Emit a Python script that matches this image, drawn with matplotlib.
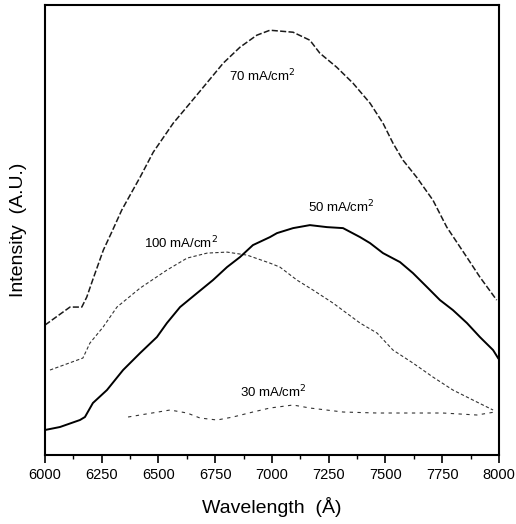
import numpy as np
import matplotlib.pyplot as plt

# Emission spectra (intensity in arbitrary units)
wl_70 = [6000, 6110, 6162, 6184, 6213, 6257, 6294, 6338, 6419, 6477, 6565, 6639,
         6712, 6785, 6859, 6933, 6991, 7093, 7167, 7211, 7285, 7357, 7432, 7489,
         7533, 7577, 7637, 7709, 7770, 7858, 7916, 7990]
int_70 = [130, 148, 148, 158, 177, 205, 223, 245, 278, 303, 332, 352,
          372, 392, 408, 420, 425, 423, 415, 402, 388, 372, 352, 332,
          312, 295, 278, 255, 228, 198, 178, 155]

wl_100 = [6022, 6167, 6198, 6256, 6317, 6419, 6537, 6626, 6714, 6802, 6890, 6991,
          7035, 7110, 7181, 7269, 7388, 7463, 7533, 7621, 7709, 7797, 7885, 7974]
int_100 = [85, 97, 112, 128, 148, 167, 185, 197, 202, 203, 200, 192,
           188, 175, 165, 152, 132, 122, 105, 92, 78, 65, 55, 45]

wl_50 = [6000, 6066, 6154, 6176, 6211, 6273, 6344, 6419, 6493, 6537, 6595, 6670,
         6740, 6802, 6859, 6916, 6991, 7022, 7093, 7167, 7242, 7313, 7388, 7432,
         7489, 7564, 7621, 7683, 7740, 7797, 7859, 7916, 7974, 7996]
int_50 = [25, 28, 35, 38, 52, 65, 85, 102, 118, 132, 148, 162,
          175, 188, 198, 210, 218, 222, 227, 230, 228, 227, 218, 212,
          202, 193, 182, 168, 155, 145, 132, 118, 105, 97]

wl_30 = [6366, 6419, 6551, 6626, 6683, 6758, 6828, 6916, 6991, 7093, 7167, 7313,
         7463, 7608, 7753, 7903, 7982]
int_30 = [38, 40, 45, 42, 37, 35, 38, 43, 47, 50, 47, 43,
          42, 42, 42, 40, 43]

labels = ['70 mA/cm$^2$', '100 mA/cm$^2$', '50 mA/cm$^2$', '30 mA/cm$^2$']
label_pos = [(6956, 379), (6599, 212), (7304, 248), (7005, 63)]

plt.rcParams['font.family'] = ['Liberation Sans', 'DejaVu Sans']

fig = plt.figure(figsize=(5.16, 5.24), dpi=100)
ax = fig.add_axes([0.0872, 0.1317, 0.8798, 0.8583])

ax.plot(wl_70, int_70, color='#1a1a1a', lw=1.1, ls=(0, (4, 1.5)))
ax.plot(wl_100, int_100, color='#333333', lw=0.8, ls=(0, (3, 2)))
ax.plot(wl_50, int_50, color='black', lw=1.4)
ax.plot(wl_30, int_30, color='#333333', lw=0.8, ls=(0, (3, 4)))

for text, (x, y) in zip(labels, label_pos):
    ax.text(x, y, text, fontsize=9.5, ha='center', va='center')

ax.set_xlim(6000, 8000)
ax.set_ylim(0, 450)
ax.set_xticks(np.arange(6000, 8001, 250))
ax.set_xticks(np.arange(6125, 8000, 250), minor=True)
ax.set_yticks([])
ax.tick_params(axis='x', which='major', direction='out', length=6, width=1.2, labelsize=10.5)
ax.tick_params(axis='x', which='minor', direction='out', length=3, width=1.0)
for s in ax.spines.values():
    s.set_linewidth(1.5)

ax.set_xlabel('Wavelength  (Å)', fontsize=14, labelpad=11)
ax.set_ylabel('Intensity  (A.U.)', fontsize=14, labelpad=13)

fig.savefig('out.png', dpi=100)
